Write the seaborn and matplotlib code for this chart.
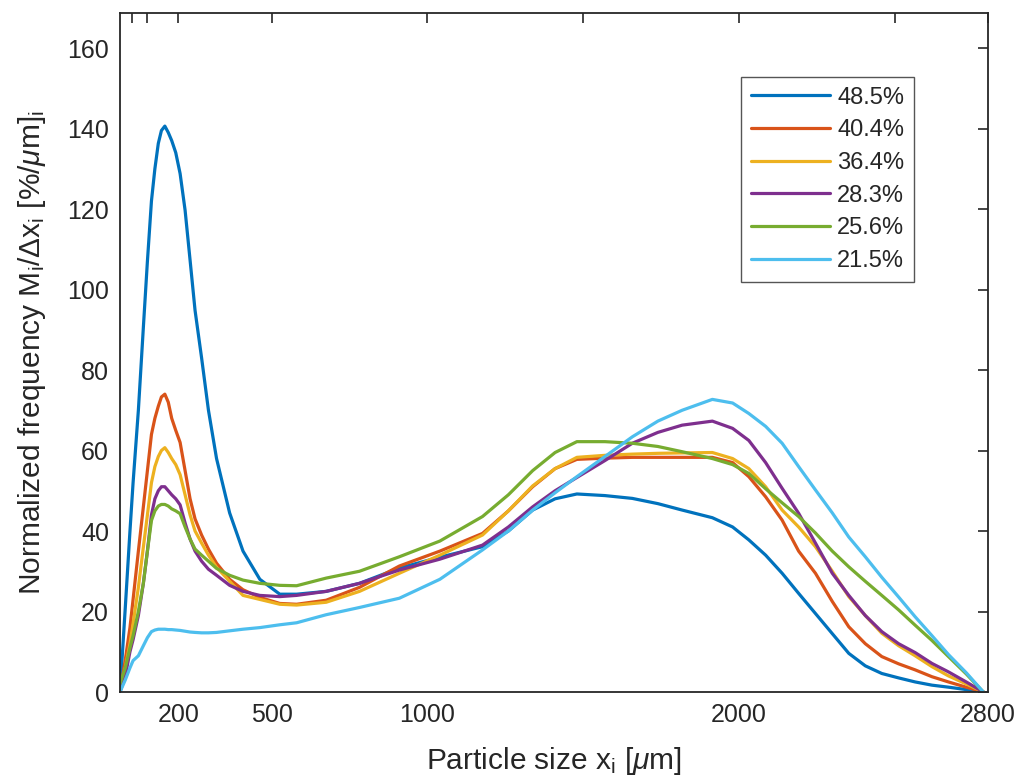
import matplotlib
matplotlib.use("Agg")
import matplotlib.pyplot as plt
import seaborn as sns
import pandas as pd

# ---- data ----
x = [13, 30, 45, 55, 72, 88, 101, 114, 125, 136, 146, 157, 168, 179, 192, 206,
     222, 238, 254, 275, 297, 323, 365, 408, 462, 526, 580, 675, 782, 910,
     1040, 1177, 1260, 1338, 1410, 1480, 1570, 1658, 1740, 1818, 1915, 1980,
     2032, 2086, 2139, 2192, 2246, 2300, 2353, 2406, 2459, 2513, 2566, 2620,
     2673, 2730, 2785]

s485 = [0, 21, 40, 52, 70, 90.6, 107, 122, 130, 136.3, 139.5, 140.6, 139, 137, 134, 128.8,
        119.7, 107.3, 94.8, 83, 70, 58, 44.5, 35, 28, 24.3, 24.3, 25, 27, 30.8,
        33.5, 36.1, 40, 45.2, 48, 49.2, 48.8, 48.1, 46.8, 45.2, 43.3, 41,
        37.8, 34, 29.5, 24.5, 19.5, 14.5, 9.6, 6.5, 4.6, 3.5, 2.5, 1.7,
        1.2, 0.6, 0]
s404 = [0, 8, 16, 23, 35, 46, 55, 64, 68, 71, 73.3, 74, 72, 68, 65, 62,
        55, 48, 43, 39, 35.5, 32, 28, 25.4, 23.5, 22, 21.8, 22.8, 26, 31.3,
        35, 39.4, 45, 51, 55.5, 57.8, 58.1, 58.3, 58.3, 58.3, 58.3, 57,
        53.5, 48.5, 42.7, 35, 29.5, 22.5, 16.2, 12, 8.8, 7, 5.5, 3.8,
        2.5, 1.2, 0]
s364 = [0, 6, 12, 17, 26, 36, 44, 52, 56, 58.5, 60, 60.7, 59.5, 58, 56.5, 54,
        49, 44, 40, 37, 34, 31, 27.5, 24, 23, 21.8, 21.6, 22.3, 25, 29.5,
        34, 39, 45, 51.2, 55.5, 58.3, 58.8, 59.1, 59.3, 59.4, 59.5, 58,
        55.5, 51, 45.2, 41, 36.1, 30, 23.7, 19, 14.6, 11.5, 9, 6.3,
        4, 2, 0]
s283 = [0, 4, 10, 13, 19, 27, 35, 44, 48, 50, 51, 51, 50, 49, 48, 46.5,
        42, 38, 35, 32.5, 30.5, 29, 26.5, 25, 24, 23.7, 24, 25, 27, 30.3,
        33, 36.5, 41, 46, 50, 53.3, 57.5, 61.8, 64.5, 66.3, 67.3, 65.5,
        62.5, 57, 50.6, 44.4, 37, 29.5, 24, 19, 15, 12, 9.8, 7.1,
        5, 2.5, 0]
s256 = [2, 6, 11, 14, 20, 27, 35, 42.6, 45, 46.2, 46.6, 46.6, 46.2, 45.5, 45, 44.3,
        41, 38, 35.5, 34, 32.5, 30.7, 29, 27.8, 27, 26.5, 26.4, 28.3, 30, 33.6,
        37.5, 43.6, 49, 55, 59.5, 62.2, 62.2, 61.8, 61, 59.7, 58, 56.5,
        54.3, 50.5, 47, 43.6, 39.5, 35, 31.1, 27.5, 24, 20.4, 16.6, 12.8,
        8.8, 4.5, 0]
s215 = [0, 3, 6, 7.8, 9, 11.5, 13.5, 15, 15.4, 15.6, 15.6, 15.6, 15.5, 15.5, 15.4, 15.3,
        15.1, 14.9, 14.8, 14.7, 14.7, 14.8, 15.2, 15.6, 16, 16.7, 17.2, 19.2, 21, 23.3,
        28, 35.3, 40, 45.2, 49.5, 53.5, 58.5, 63.4, 67.3, 70, 72.7, 71.8,
        69.2, 66, 61.8, 56, 50.2, 44.5, 38.5, 33.6, 28.5, 23.6, 18.7, 14,
        9.3, 4.8, 0]

labels = ["48.5%", "40.4%", "36.4%", "28.3%", "25.6%", "21.5%"]
series = [s485, s404, s364, s283, s256, s215]
colors = ["#0072BD", "#D95319", "#EDB120", "#7E2F8E", "#77AC30", "#4DBEEE"]

xticks = [50, 100, 200, 500, 1000, 1500, 2000, 2500, 2800]
xticklabels = ["", "", "200", "500", "1000", "", "2000", "", "2800"]
yticks = [0, 20, 40, 60, 80, 100, 120, 140, 160]

rows = []
for lab, vals in zip(labels, series):
    for xi, yi in zip(x, vals):
        rows.append({"x": xi, "y": yi, "series": lab})
df = pd.DataFrame(rows)

sns.set_theme(style="white")
plt.rcParams["font.family"] = ["Liberation Sans", "DejaVu Sans"]
plt.rcParams["mathtext.fontset"] = "custom"
plt.rcParams["mathtext.rm"] = "Liberation Sans"
plt.rcParams["mathtext.it"] = "Liberation Sans:italic"
plt.rcParams["mathtext.bf"] = "Liberation Sans:bold"

fig = plt.figure(figsize=(10.19, 7.78), dpi=100)
ax = fig.add_axes([120 / 1019, 1 - 692 / 778, (988 - 120) / 1019, (692 - 13) / 778])

sns.lineplot(data=df, x="x", y="y", hue="series", hue_order=labels,
             palette=colors, estimator=None, sort=False, linewidth=2.3, ax=ax)

ax.set_xlim(13, 2800)
ax.set_ylim(0, 168.7)
ax.set_xticks(xticks)
ax.set_xticklabels(xticklabels)
ax.set_yticks(yticks)

dark = "#262626"
for sp in ax.spines.values():
    sp.set_visible(True)
    sp.set_color(dark)
    sp.set_linewidth(1.3)
ax.tick_params(axis="both", direction="in", top=True, right=True, length=7,
               width=1.2, color=dark, labelsize=18, labelcolor=dark, pad=8)

ax.set_xlabel(r"Particle size x$_\mathregular{i}$ [$\mu$m]", fontsize=21.5, color=dark, labelpad=13)
ax.set_ylabel(r"Normalized frequency M$_\mathregular{i}$/$\Delta$x$_\mathregular{i}$ [%/$\mu$m]$_\mathregular{i}$",
              fontsize=21.5, color=dark, labelpad=14)

leg = ax.legend(loc="upper right", bbox_to_anchor=(0.915, 0.906), borderaxespad=0,
                fontsize=17, handlelength=3.35, handletextpad=0.3, labelspacing=0.45,
                borderpad=0.42, fancybox=False, framealpha=1, title=None)
leg.get_frame().set_edgecolor("#555555")
leg.get_frame().set_linewidth(1.0)
for line in leg.get_lines():
    line.set_linewidth(2.3)

fig.savefig("out.png", dpi=100)
